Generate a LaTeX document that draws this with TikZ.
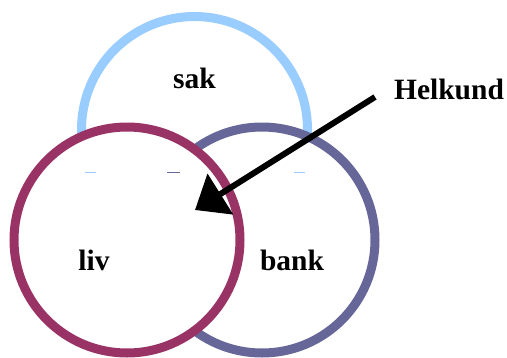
\documentclass[tikz,border=0pt]{standalone}
\usepackage{fontspec}
\setmainfont{Liberation Serif}
\usetikzlibrary{arrows.meta}

\definecolor{sakblue}{HTML}{99CCFF}
\definecolor{livred}{HTML}{993366}
\definecolor{bankgrey}{HTML}{666699}

\tikzset{%
				ring/.style={
					circle,
					draw,
					fill=white,
					line width=9pt,
					minimum size=226pt,
					inner sep=0pt
				},
				tag/.style={
					anchor=base,
					font=\fontsize{29.5}{30}\selectfont\bfseries
				},
				seam/.style={
					line width=1pt
				},
				pointer/.style={
					line width=6pt,
					-{Triangle[length=30pt, width=47pt]}
				},
			}

\begin{document}
\begin{tikzpicture}[x=1pt, y=-1pt]
			
			\useasboundingbox (0,0) rectangle (507,357);
			
			% the three rings, back to front
			\foreach \n/\c/\x/\y in {sak/sakblue/194.5/129.5, bank/bankgrey/262/240, liv/livred/127/240}
			\node [ring, draw=\c] (\n) at (\x,\y) {};
			
			% faint seams left by the hidden strokes
			\draw [seam, sakblue] (85,172) -- (96,172);
			\draw [seam, bankgrey] (167,172) -- (180,172);
			\draw [seam, sakblue] (294,172) -- (305,172);
			
			\foreach \t/\x/\y in {sak/194.5/88, liv/94/270, bank/292/270}
			\node [tag] (\t-label) at (\x,\y) {\t};
			
			\node [tag] (helkund) at (449,99) {Helkund};
			
			\coordinate (from) at (375,97);
			\coordinate (into) at (195,210);
			\draw [pointer] (from) -- (into);
			
			\end{tikzpicture}
\end{document}
